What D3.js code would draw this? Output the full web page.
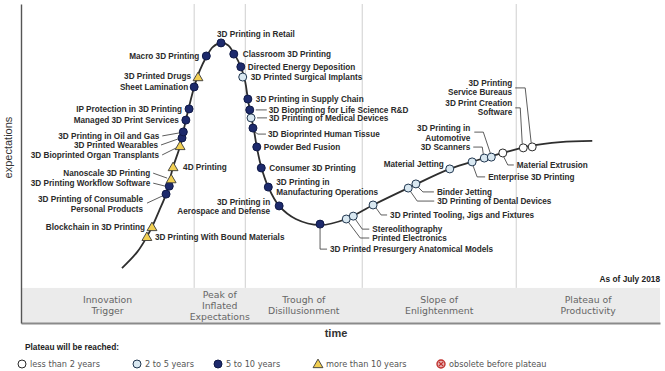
<!DOCTYPE html>
<html>
<head>
<meta charset="utf-8">
<script src="https://cdn.jsdelivr.net/npm/d3@7"></script>
<style>
  body { margin: 0; background: #fff; }
  .lbl { font-family: "Liberation Sans", Arial, sans-serif; font-size: 8.2px; font-weight: bold; fill: #2b2b2b; }
  .phase { font-family: "DejaVu Sans", sans-serif; font-size: 9.3px; fill: #666; }
  .leg { font-family: "DejaVu Sans", sans-serif; font-size: 8.2px; fill: #555; }
</style>
</head>
<body>
<div id="chart"></div>
<script>
// hype curve (time %, expectations %)
const curveTime   = [15.8, 18.2, 19.7, 20.5, 21.6, 22.7, 23.8, 24.9, 25.8, 27.1, 28.0, 29.0, 30.0, 31.3, 32.4, 33.3, 34.4, 35.1, 35.5, 36.0, 36.5, 36.9, 37.6, 38.7, 40.4, 43.0, 46.8, 50.9, 55.1, 60.9, 67.1, 71.5, 75.4, 79.7, 84.4, 89.4];
const curveExpect = [17.2, 22.3, 27.0, 30.1, 35.1, 40.4, 48.9, 55.5, 63.6, 74.0, 79.3, 83.4, 86.5, 87.8, 87.1, 84.6, 80.3, 75.5, 70.2, 64.9, 59.9, 55.2, 48.9, 42.6, 36.7, 32.6, 30.7, 32.6, 37.0, 42.6, 48.3, 51.1, 53.3, 55.5, 56.7, 57.1];

// phases
const phaseNames = ["Innovation\nTrigger", "Peak of\nInflated\nExpectations", "Trough of\nDisillusionment", "Slope of\nEnlightenment", "Plateau of\nProductivity"];
const phaseBounds = [0, 27.1, 35.1, 53.4, 77.5, 100];

// technologies: name, time, expectation, plateau class
const techs = [
  ["3D Printing With Bound Materials", 19.7, 27.0, "gt10"],
  ["Blockchain in 3D Printing", 20.5, 30.1, "gt10"],
  ["3D Printing of Consumable\nPersonal Products", 22.7, 40.4, "5to10"],
  ["3D Printing Workflow Software", 23.2, 42.9, "5to10"],
  ["Nanoscale 3D Printing", 23.5, 45.1, "gt10"],
  ["4D Printing", 23.8, 48.9, "gt10"],
  ["3D Bioprinted Organ Transplants", 24.9, 55.5, "gt10"],
  ["3D Printed Wearables", 25.2, 58.0, "5to10"],
  ["3D Printing in Oil and Gas", 25.4, 59.9, "5to10"],
  ["Managed 3D Print Services", 25.8, 63.6, "5to10"],
  ["IP Protection in 3D Printing", 26.3, 67.1, "5to10"],
  ["Sheet Lamination", 27.1, 74.0, "5to10"],
  ["3D Printed Drugs", 27.7, 77.1, "gt10"],
  ["Macro 3D Printing", 29.0, 83.7, "5to10"],
  ["3D Printing in Retail", 31.3, 87.8, "5to10"],
  ["Classroom 3D Printing", 33.3, 84.3, "5to10"],
  ["Directed Energy Deposition", 34.4, 80.3, "5to10"],
  ["3D Printed Surgical Implants", 34.7, 77.1, "2to5"],
  ["3D Printing in Supply Chain", 35.5, 70.2, "5to10"],
  ["3D Bioprinting for Life Science R&D", 35.8, 66.8, "5to10"],
  ["3D Printing of Medical Devices", 36.0, 64.3, "2to5"],
  ["3D Bioprinted Human Tissue", 36.3, 61.1, "5to10"],
  ["Powder Bed Fusion", 36.9, 55.2, "5to10"],
  ["Consumer 3D Printing", 37.6, 48.6, "5to10"],
  ["3D Printing in\nManufacturing Operations", 38.7, 42.6, "5to10"],
  ["3D Printing in\nAerospace and Defense", 40.4, 36.7, "5to10"],
  ["3D Printed Presurgery Anatomical Models", 46.8, 31.0, "5to10"],
  ["Printed Electronics", 50.9, 32.6, "2to5"],
  ["Stereolithography", 52.0, 33.5, "2to5"],
  ["3D Printed Tooling, Jigs and Fixtures", 55.1, 37.0, "2to5"],
  ["3D Printing of Dental Devices", 60.6, 42.3, "2to5"],
  ["Binder Jetting", 61.8, 43.6, "2to5"],
  ["Material Jetting", 67.1, 48.3, "2to5"],
  ["Enterprise 3D Printing", 70.6, 50.5, "2to5"],
  ["3D Scanners", 72.5, 51.7, "2to5"],
  ["3D Printing in\nAutomotive", 73.6, 52.0, "2to5"],
  ["Material Extrusion", 75.4, 53.3, "lt2"],
  ["3D Print Creation\nSoftware", 78.6, 54.9, "lt2"],
  ["3D Printing\nService Bureaus", 80.0, 55.2, "lt2"]
];

const legendKeys = ["lt2", "2to5", "5to10", "gt10", "obs"];
const legendLabels = ["less than 2 years", "2 to 5 years", "5 to 10 years", "more than 10 years", "obsolete before plateau"];

// label placement (pixel offsets from the marker), leader = polyline offsets
const L = (dx, dy, anchor, leader) => ({ dx, dy, anchor, leader });
const labelLayout = {
  "3D Printing With Bound Materials": L(8, 0, "start"),
  "Blockchain in 3D Printing": L(-7, 0, "end"),
  "3D Printing of Consumable\nPersonal Products": L(-23, 5, "end", [[-19, 9], [-4, 2]]),
  "3D Printing Workflow Software": L(-19, -3, "end", [[-16, -3], [-4, 0]]),
  "Nanoscale 3D Printing": L(-21, -6, "end", [[-18, -6], [-4, -1]]),
  "4D Printing": L(10, 0, "start"),
  "3D Bioprinted Organ Transplants": L(-21, 9, "end", [[-18, 9], [-4, 2]]),
  "3D Printed Wearables": L(-24, 7, "end", [[-21, 7], [-4, 1]]),
  "3D Printing in Oil and Gas": L(-24, 4, "end", [[-21, 4], [-4, 1]]),
  "Managed 3D Print Services": L(-7, 0, "end"),
  "IP Protection in 3D Printing": L(-7, 0, "end"),
  "Sheet Lamination": L(-6, 0, "end"),
  "3D Printed Drugs": L(-7, -1, "end"),
  "Macro 3D Printing": L(-7, 0, "end"),
  "3D Printing in Retail": L(-4, -9, "start"),
  "Classroom 3D Printing": L(9, 0, "start"),
  "Directed Energy Deposition": L(7, 0, "start"),
  "3D Printed Surgical Implants": L(8, 0, "start"),
  "3D Printing in Supply Chain": L(8, 0, "start"),
  "3D Bioprinting for Life Science R&D": L(19, 0, "start", [[6, 0], [17, 0]]),
  "3D Printing of Medical Devices": L(18, 0, "start", [[6, 0], [16, 0]]),
  "3D Bioprinted Human Tissue": L(15, 6, "start", [[2, 4], [5, 6], [13, 6]]),
  "Powder Bed Fusion": L(7, 0, "start"),
  "Consumer 3D Printing": L(8, 0, "start"),
  "3D Printing in\nManufacturing Operations": L(8, -5, "start"),
  "3D Printing in\nAerospace and Defense": L(-9, -4, "end"),
  "3D Printed Presurgery Anatomical Models": L(10, 25, "start", [[0, 4], [0, 25], [7, 25]]),
  "Printed Electronics": L(26, 19, "start", [[2, 3], [14, 19], [23, 19]]),
  "Stereolithography": L(19, 13, "start", [[2, 3], [9, 13], [16, 13]]),
  "3D Printed Tooling, Jigs and Fixtures": L(17, 10, "start", [[3, 3], [8, 10], [14, 10]]),
  "3D Printing of Dental Devices": L(29, 13, "start", [[2, 3], [9, 13], [26, 13]]),
  "Binder Jetting": L(21, 8, "start", [[2, 3], [7, 8], [18, 8]]),
  "Material Jetting": L(-6, -5, "end"),
  "Enterprise 3D Printing": L(16, 15, "start", [[1, 4], [5, 15], [13, 15]]),
  "3D Scanners": L(-14, -11, "end", [[-1, -4], [-2, -11], [-11, -11]]),
  "3D Printing in\nAutomotive": L(-21, -29, "end", [[-1, -4], [-8, -25], [-17, -25]]),
  "Material Extrusion": L(14, 12, "start", [[1, 4], [5, 12], [11, 12]]),
  "3D Print Creation\nSoftware": L(-11, -45, "end", [[-1, -4], [-3, -40], [-8, -40]]),
  "3D Printing\nService Bureaus": L(-20, -64, "end", [[-1, -4], [-7, -59], [-17, -59]])
};

const W = 665, H = 371;
const bandTop = 11;

const svg = d3.select("#chart").append("svg")
  .attr("width", W).attr("height", H);

const x = d3.scaleLinear().domain([0, 100]).range([21, 660]);
const y = d3.scaleLinear().domain([0, 100]).range([323, 4]);

// phase band
svg.append("rect")
  .attr("x", x(0)).attr("y", y(bandTop))
  .attr("width", x(100) - x(0)).attr("height", y(0) - y(bandTop))
  .attr("fill", "#ebebeb");

// phase separators
svg.selectAll(".sep")
  .data(phaseBounds.slice(1, -1))
  .enter().append("line")
  .attr("x1", d => x(d)).attr("x2", d => x(d))
  .attr("y1", y(100)).attr("y2", y(bandTop))
  .attr("stroke", "#cfcfcf").attr("stroke-width", 1);

// phase labels
phaseNames.forEach((name, i) => {
  const cx = x((phaseBounds[i] + phaseBounds[i + 1]) / 2);
  const lines = name.split("\n");
  const mid = (y(bandTop) + y(0)) / 2;
  const t = svg.append("text").attr("class", "phase")
    .attr("text-anchor", "middle");
  lines.forEach((ln, j) => {
    t.append("tspan").attr("x", cx)
      .attr("y", mid + 3.5 + (j - (lines.length - 1) / 2) * 11)
      .text(ln);
  });
});

// axes
svg.append("g")
  .attr("transform", `translate(0,${y(0)})`)
  .call(d3.axisBottom(x).tickValues([]).tickSizeOuter(0))
  .select(".domain").attr("stroke", "#8a8a8a").attr("stroke-width", 2);

svg.append("g")
  .attr("transform", `translate(${x(0)},0)`)
  .call(d3.axisLeft(y).tickValues([]).tickSizeOuter(0))
  .select(".domain").attr("stroke", "#555").attr("stroke-width", 1.4);

svg.append("text")
  .attr("transform", `translate(12,${y(55)}) rotate(-90)`)
  .attr("text-anchor", "middle")
  .style("font-family", "Liberation Sans, Arial, sans-serif")
  .style("font-size", "11px").style("fill", "#333")
  .text("expectations");

svg.append("text")
  .attr("x", 336).attr("y", 337)
  .attr("text-anchor", "middle")
  .style("font-family", "Liberation Sans, Arial, sans-serif")
  .style("font-size", "11px").style("font-weight", "bold").style("fill", "#333")
  .text("time");

svg.append("text")
  .attr("x", x(100)).attr("y", 282)
  .attr("text-anchor", "end")
  .style("font-family", "Liberation Sans, Arial, sans-serif")
  .style("font-size", "8.3px").style("font-weight", "bold").style("fill", "#222")
  .text("As of July 2018");

// curve
const curvePts = curveTime.map((t, i) => [t, curveExpect[i]]);
svg.append("path")
  .datum(curvePts)
  .attr("fill", "none")
  .attr("stroke", "#2e2e2e")
  .attr("stroke-width", 1.8)
  .attr("d", d3.line().x(d => x(d[0])).y(d => y(d[1])).curve(d3.curveCatmullRom.alpha(0.5)));

// markers
function drawMarker(g, key) {
  if (key === "gt10") {
    g.append("path")
      .attr("d", d3.symbol().type(d3.symbolTriangle).size(42)())
      .attr("transform", "translate(0,0.8)")
      .attr("fill", "#f1cf52").attr("stroke", "#3a3a3a").attr("stroke-width", 0.9);
  } else if (key === "obs") {
    g.append("circle").attr("r", 4).attr("fill", "#e6b4b4").attr("stroke", "#c0312e").attr("stroke-width", 1.4);
    g.append("path").attr("d", "M-2.2,-2.2L2.2,2.2M-2.2,2.2L2.2,-2.2")
      .attr("stroke", "#c0312e").attr("stroke-width", 1.2);
  } else {
    const fill = { lt2: "#ffffff", "2to5": "#d9e8f1", "5to10": "#1d2a6c" }[key];
    const stroke = { lt2: "#2a2a2a", "2to5": "#20364f", "5to10": "#0f1947" }[key];
    g.append("circle").attr("r", 4).attr("fill", fill).attr("stroke", stroke).attr("stroke-width", 1);
  }
}

// leaders and labels
const tg = svg.append("g");
techs.forEach(([name, t, e, key]) => {
  const px = x(t), py = y(e);
  const lay = labelLayout[name];
  if (lay.leader) {
    tg.append("polyline")
      .attr("points", lay.leader.map(p => `${px + p[0]},${py + p[1]}`).join(" "))
      .attr("fill", "none").attr("stroke", "#333").attr("stroke-width", 0.8);
  }
  const lines = name.split("\n");
  const txt = tg.append("text").attr("class", "lbl").attr("text-anchor", lay.anchor);
  lines.forEach((ln, j) => {
    txt.append("tspan")
      .attr("x", px + lay.dx)
      .attr("y", py + lay.dy + 3 + j * 9.5)
      .text(ln);
  });
});

techs.forEach(([name, t, e, key]) => {
  const g = svg.append("g").attr("transform", `translate(${x(t)},${y(e)})`);
  drawMarker(g, key);
});

// legend
svg.append("text")
  .attr("x", 25).attr("y", 350)
  .style("font-family", "Liberation Sans, Arial, sans-serif")
  .style("font-size", "8.3px").style("font-weight", "bold").style("fill", "#222")
  .text("Plateau will be reached:");

const legendX = [22, 137, 218, 318, 441];
legendKeys.forEach((k, i) => {
  const g = svg.append("g").attr("transform", `translate(${legendX[i]},364)`);
  drawMarker(g, k);
  svg.append("text").attr("class", "leg")
    .attr("x", legendX[i] + 8).attr("y", 367)
    .text(legendLabels[i]);
});
</script>
</body>
</html>
